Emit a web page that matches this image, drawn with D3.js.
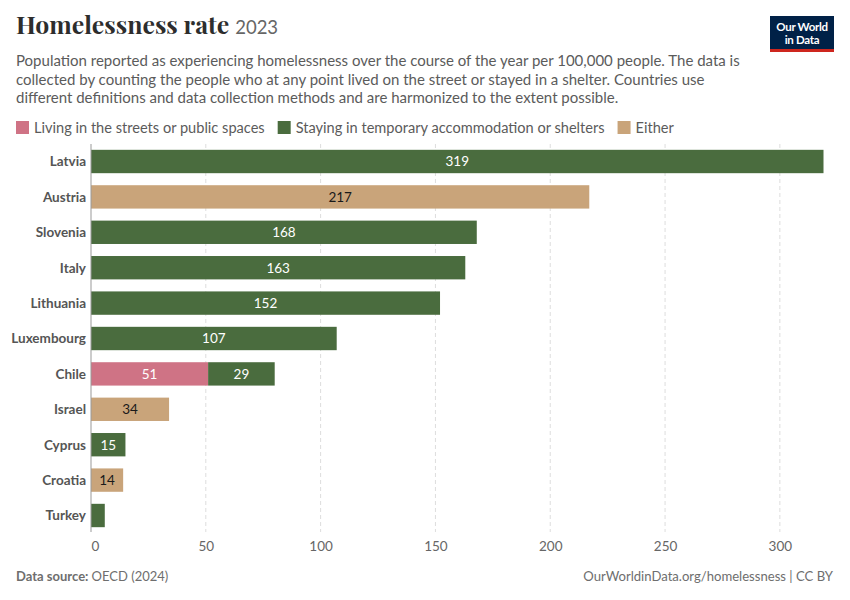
<!DOCTYPE html>
<html>
<head>
<meta charset="utf-8">
<script src="https://cdn.jsdelivr.net/npm/d3@7"></script>
<style>
  body { margin: 0; background: #fff; }
  text { font-family: Lato, "Noto Sans", sans-serif; }
</style>
</head>
<body>
<div id="chart"></div>
<script>
// data
var countries = ["Latvia", "Austria", "Slovenia", "Italy", "Lithuania", "Luxembourg",
                 "Chile", "Israel", "Cyprus", "Croatia", "Turkey"];
var streets   = [0, 0, 0, 0, 0, 0, 51, 0, 0, 0, 0];
var shelters  = [319, 0, 168, 163, 152, 107, 29, 0, 15, 0, 6];
var either    = [0, 217, 0, 0, 0, 0, 0, 34, 0, 14, 0];
var xTicks    = [0, 50, 100, 150, 200, 250, 300];

var seriesNames  = ["Living in the streets or public spaces", "Staying in temporary accommodation or shelters", "Either"];
var seriesKeys   = ["streets", "shelters", "either"];
var seriesColors = ["#cf7385", "#4a6c3e", "#c9a47a"];

var w = 850, h = 600;

var rows = countries.map(function(c, i) {
  return { country: c, streets: streets[i], shelters: shelters[i], either: either[i] };
});

var svg = d3.select("#chart").append("svg")
  .attr("width", w)
  .attr("height", h);

// header
var title = svg.append("text")
  .attr("x", 16).attr("y", 34)
  .attr("fill", "#2d2d2d");
title.append("tspan")
  .attr("font-family", "'Playfair Display', 'DejaVu Serif', serif")
  .attr("font-weight", "bold")
  .attr("font-size", "24.8px")
  .text("Homelessness rate");
title.append("tspan")
  .attr("font-family", "Lato, sans-serif")
  .attr("font-size", "18.5px")
  .attr("fill", "#666")
  .attr("dx", 6)
  .text("2023");

var subtitle = [
  "Population reported as experiencing homelessness over the course of the year per 100,000 people. The data is",
  "collected by counting the people who at any point lived on the street or stayed in a shelter. Countries use",
  "different definitions and data collection methods and are harmonized to the extent possible."
];
svg.selectAll("text.sub")
  .data(subtitle)
  .enter()
  .append("text")
  .attr("class", "sub")
  .attr("x", 16)
  .attr("y", function(d, i) { return 66 + i * 18.5; })
  .attr("font-size", "15px")
  .attr("fill", "#5b5b5b")
  .text(function(d) { return d; });

// logo
var logo = svg.append("g").attr("transform", "translate(770,16)");
logo.append("rect").attr("width", 64).attr("height", 36).attr("fill", "#002147");
logo.append("rect").attr("y", 33).attr("width", 64).attr("height", 3).attr("fill", "#ce261e");
logo.append("text").attr("x", 32).attr("y", 15).attr("text-anchor", "middle")
  .attr("fill", "#fff").attr("font-size", "11.5px").attr("font-weight", "bold")
  .attr("letter-spacing", "-0.3").text("Our World");
logo.append("text").attr("x", 32).attr("y", 28).attr("text-anchor", "middle")
  .attr("fill", "#fff").attr("font-size", "11.5px").attr("font-weight", "bold")
  .attr("letter-spacing", "-0.3").text("in Data");

// legend
var lx = 16;
seriesNames.forEach(function(name, i) {
  svg.append("rect")
    .attr("x", lx).attr("y", 121)
    .attr("width", 13).attr("height", 13)
    .attr("fill", seriesColors[i]);
  var t = svg.append("text")
    .attr("x", lx + 18).attr("y", 133)
    .attr("font-size", "14.6px")
    .attr("fill", "#5b5b5b")
    .text(name);
  lx += 18 + t.node().getComputedTextLength() + 13;
});

// scales
var x = d3.scaleLinear()
  .domain([0, 319])
  .range([91, 823.5]);

var y = d3.scaleBand()
  .domain(countries)
  .range([143.8, 533.2])
  .paddingInner(0.34)
  .paddingOuter(0.17);

// grid
svg.append("g")
  .selectAll("line")
  .data(xTicks.slice(1))
  .enter()
  .append("line")
  .attr("x1", function(d) { return x(d); })
  .attr("x2", function(d) { return x(d); })
  .attr("y1", 144)
  .attr("y2", 532)
  .attr("stroke", "#ddd")
  .attr("stroke-dasharray", "4,3");

// bars
var stack = d3.stack().keys(seriesKeys)(rows);

var layers = svg.append("g")
  .selectAll("g")
  .data(stack)
  .enter()
  .append("g")
  .attr("fill", function(d, i) { return seriesColors[i]; });

layers.selectAll("rect")
  .data(function(d) { return d.filter(function(p) { return p[1] > p[0]; }); })
  .enter()
  .append("rect")
  .attr("x", function(d) { return x(d[0]); })
  .attr("y", function(d) { return y(d.data.country); })
  .attr("width", function(d) { return x(d[1]) - x(d[0]); })
  .attr("height", y.bandwidth());

layers.each(function(layer, i) {
  d3.select(this).selectAll("text")
    .data(layer.filter(function(p) { return p[1] - p[0] >= 10; }))
    .enter()
    .append("text")
    .attr("x", function(d) { return (x(d[0]) + x(d[1])) / 2; })
    .attr("y", function(d) { return y(d.data.country) + y.bandwidth() / 2 + 4.8; })
    .attr("text-anchor", "middle")
    .attr("font-size", "13.5px")
    .attr("fill", i === 2 ? "#1a1a1a" : "#fff")
    .text(function(d) { return d[1] - d[0]; });
});

// y axis line and labels
svg.append("line")
  .attr("x1", 91).attr("x2", 91)
  .attr("y1", 144).attr("y2", 532)
  .attr("stroke", "#999")
  .attr("stroke-width", 1);

svg.append("g")
  .selectAll("text")
  .data(countries)
  .enter()
  .append("text")
  .attr("x", 86)
  .attr("y", function(d) { return y(d) + y.bandwidth() / 2 + 4.8; })
  .attr("text-anchor", "end")
  .attr("font-size", "13.5px")
  .attr("font-weight", "bold")
  .attr("fill", "#555")
  .text(function(d) { return d; });

// x axis
var xAxis = svg.append("g")
  .attr("transform", "translate(0,532)")
  .call(d3.axisBottom(x).tickValues(xTicks).tickSize(0).tickPadding(9));
xAxis.select(".domain").remove();
xAxis.selectAll("text")
  .attr("font-family", "Lato, sans-serif")
  .attr("font-size", "13.5px")
  .attr("fill", "#666");
xAxis.selectAll(".tick").filter(function(d) { return d === 0; })
  .select("text").attr("dx", 4);

// footer
var src = svg.append("text")
  .attr("x", 16).attr("y", 581)
  .attr("font-size", "13px")
  .attr("fill", "#6e6e6e");
src.append("tspan").attr("font-weight", "bold").text("Data source: ");
src.append("tspan").text("OECD (2024)");

svg.append("text")
  .attr("x", 833).attr("y", 581)
  .attr("text-anchor", "end")
  .attr("font-size", "13.1px")
  .attr("fill", "#6e6e6e")
  .text("OurWorldinData.org/homelessness | CC BY");
</script>
</body>
</html>
